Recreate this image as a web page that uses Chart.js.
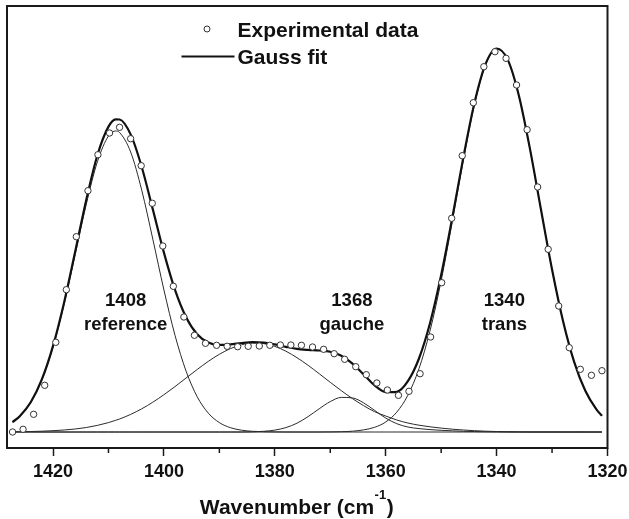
<!DOCTYPE html>
<html>
<head>
<meta charset="utf-8">
<script src="https://cdn.jsdelivr.net/npm/chart.js@4.4.1/dist/chart.umd.min.js"></script>
<style>
  html, body { margin: 0; padding: 0; background: #fff; }
  canvas { display: block; }
</style>
</head>
<body>
<canvas id="chart" width="629" height="519"></canvas>
<script>
// Wavenumber grid (cm-1) shared by the fitted curve and its four Gaussian bands
const fitWavenumber = [1427.3, 1426, 1424, 1422, 1420, 1418, 1416, 1414, 1412, 1410, 1408.7, 1408,
  1406, 1404, 1402, 1400, 1398, 1396, 1394, 1392, 1390, 1388, 1386, 1384, 1382, 1380, 1378, 1376,
  1374, 1372, 1370, 1368, 1366, 1364, 1362, 1360, 1358, 1356, 1354, 1352, 1350, 1348, 1346, 1344,
  1342, 1340, 1338, 1336, 1334, 1332, 1330, 1328, 1326, 1324, 1322, 1321];

// 1408 cm-1 reference band
const refBand = [9.7, 15.5, 29.5, 52.0, 84.8, 127.6, 177.4, 227.8, 270.2, 296.0, 301.0, 299.5,
  280.0, 241.8, 192.8, 142.1, 96.7, 60.8, 35.3, 18.9, 9.4, 4.3, 1.8, 0.7, 0.3, 0.1, 0, 0,
  0, 0, 0, 0, 0, 0, 0, 0, 0, 0, 0, 0, 0, 0, 0, 0,
  0, 0, 0, 0, 0, 0, 0, 0, 0, 0, 0, 0];

// broad underlying band near 1383 cm-1
const broadBand = [0.2, 0.3, 0.5, 0.8, 1.3, 2.0, 3.0, 4.5, 6.6, 9.4, 11.7, 13.0,
  17.6, 23.2, 29.8, 37.3, 45.4, 54.0, 62.5, 70.6, 77.7, 83.4, 87.2, 88.9, 88.4, 85.6, 80.8, 74.3,
  66.7, 58.3, 49.7, 41.3, 33.4, 26.4, 20.3, 16.0, 12.0, 9.0, 6.8, 5.2, 3.9, 2.8, 2.0, 1.3,
  0.8, 0.5, 0.3, 0.15, 0, 0, 0, 0, 0, 0, 0, 0];

// 1368 cm-1 gauche band
const gaucheBand = [0, 0, 0, 0, 0, 0, 0, 0, 0, 0, 0, 0,
  0, 0, 0, 0, 0, 0, 0, 0, 0, 0, 0, 0.2, 0.7, 1.9, 4.4, 8.8,
  15.4, 23.2, 30.4, 34.6, 34.1, 29.2, 21.6, 13.9, 8.3, 5.0, 3.4, 2.4, 1.7, 1.15, 0.75, 0.45,
  0.25, 0.1, 0, 0, 0, 0, 0, 0, 0, 0, 0, 0];

// 1340 cm-1 trans band
const transBand = [0, 0, 0, 0, 0, 0, 0, 0, 0, 0, 0, 0,
  0, 0, 0, 0, 0, 0, 0, 0, 0, 0, 0, 0, 0, 0, 0, 0,
  0, 0, 0.1, 0.3, 0.8, 2.1, 4.7, 10.0, 19.9, 36.8, 63.3, 101.4, 151.3, 210.1, 271.7, 327.2,
  366.8, 382.9, 372.1, 336.6, 283.6, 222.5, 162.5, 110.5, 69.9, 41.2, 22.6, 16.3];

// overall Gauss fit (envelope of the four bands)
const gaussFit = [9.9, 15.8, 30.0, 52.8, 86.1, 129.6, 180.4, 232.3, 276.8, 305.4, 312.7, 312.5,
  297.6, 265.0, 222.6, 179.4, 142.1, 114.8, 97.8, 89.5, 87.1, 87.7, 89.0, 89.8, 89.4, 87.6, 85.2, 83.1,
  82.1, 81.5, 80.2, 76.2, 68.3, 57.7, 46.6, 39.9, 40.2, 50.8, 73.5, 109.0, 156.9, 214.1, 274.5, 329.0,
  367.9, 383.5, 372.4, 336.8, 283.6, 222.5, 162.5, 110.5, 69.9, 41.2, 22.6, 16.3];

// measured spectrum
const dataWavenumber = [1427.3, 1425.4, 1423.5, 1421.5, 1419.5, 1417.6, 1415.8, 1413.7, 1411.9, 1409.8,
  1408.0, 1406.0, 1404.1, 1402.1, 1400.2, 1398.3, 1396.4, 1394.5, 1392.5, 1390.5, 1388.6, 1386.7,
  1384.8, 1382.8, 1380.9, 1379.0, 1377.1, 1375.2, 1373.2, 1371.2, 1369.3, 1367.4, 1365.4, 1363.5,
  1361.6, 1359.7, 1357.7, 1355.8, 1353.8, 1351.9, 1349.9, 1348.1, 1346.2, 1344.2, 1342.3, 1340.3,
  1338.3, 1336.4, 1334.5, 1332.6, 1330.7, 1328.8, 1326.9, 1324.9, 1322.9, 1321.0];
const dataIntensity = [0, 2.7, 17.7, 46.7, 89.7, 142.3, 195.3, 241.3, 277.3, 299,
  304.7, 293.3, 266.3, 228.7, 186, 145.7, 115, 96.7, 88.7, 86.7, 85.7, 85.3,
  85.7, 86, 86.7, 87, 87, 86.7, 85, 82.7, 78.3, 72.7, 65.3, 57.3,
  49, 42, 36.7, 40.7, 58.3, 95, 149.3, 213.7, 276.3, 329.3, 365.3, 380.3,
  373.7, 347, 302.3, 245, 182.7, 126, 84.3, 62.7, 56.7, 61.3];

// axis ticks
const majorTicks = [1320, 1340, 1360, 1380, 1400, 1420];
const minorTicks = [1330, 1350, 1370, 1390, 1410];

// band annotations: position (cm-1) and text lines
const bandLabels = [
  { wn: 1406.9, lines: ['1408', 'reference'] },
  { wn: 1366.1, lines: ['1368', 'gauche'] },
  { wn: 1338.6, lines: ['1340', 'trans'] }
];
const legendLabels = ['Experimental data', 'Gauss fit'];
const axisTitle = { main: 'Wavenumber (cm', sup: '-1', tail: ')' };

const FONT = '"Liberation Sans", Arial, Helvetica, sans-serif';
const INK = '#111';

const toPoints = (xs, ys) => xs.map((x, i) => ({ x: x, y: ys[i] }));

function bandDataset(label, values) {
  return {
    label: label,
    data: toPoints(fitWavenumber, values),
    showLine: true,
    borderColor: '#2a2a2a',
    borderWidth: 1,
    pointRadius: 0,
    cubicInterpolationMode: 'monotone',
    order: 2
  };
}

// frame, minor ticks, band labels, legend and axis title
const decorations = {
  id: 'decorations',
  afterDraw(chart) {
    const { ctx, chartArea: a, scales: { x, y } } = chart;
    ctx.save();

    ctx.strokeStyle = '#1a1a1a';
    ctx.lineWidth = 2;
    ctx.strokeRect(a.left, a.top, a.right - a.left, a.bottom - a.top);

    ctx.lineWidth = 1.5;
    ctx.beginPath();
    minorTicks.forEach(v => {
      const px = x.getPixelForValue(v);
      ctx.moveTo(px, a.bottom);
      ctx.lineTo(px, a.bottom + 5);
    });
    ctx.stroke();

    ctx.fillStyle = INK;
    ctx.font = 'bold 18.5px ' + FONT;
    ctx.textAlign = 'center';
    ctx.textBaseline = 'alphabetic';
    bandLabels.forEach(b => {
      const px = x.getPixelForValue(b.wn);
      const py = y.getPixelForValue(126);
      b.lines.forEach((t, i) => ctx.fillText(t, px, py + i * 23.5));
    });

    // legend
    ctx.textAlign = 'left';
    ctx.font = 'bold 21px ' + FONT;
    ctx.fillText(legendLabels[0], 237.5, 36.5);
    ctx.fillText(legendLabels[1], 237.5, 63.5);
    ctx.beginPath();
    ctx.arc(207, 29, 3, 0, Math.PI * 2);
    ctx.fillStyle = '#fff';
    ctx.fill();
    ctx.lineWidth = 1;
    ctx.strokeStyle = '#333';
    ctx.stroke();
    ctx.beginPath();
    ctx.moveTo(181.5, 56.5);
    ctx.lineTo(234.5, 56.5);
    ctx.lineWidth = 2.2;
    ctx.strokeStyle = INK;
    ctx.stroke();

    // x-axis title with superscript
    ctx.fillStyle = INK;
    const mainFont = 'bold 21px ' + FONT;
    const supFont = 'bold 13px ' + FONT;
    ctx.font = mainFont;
    const wMain = ctx.measureText(axisTitle.main).width;
    const wTail = ctx.measureText(axisTitle.tail).width;
    ctx.font = supFont;
    const wSup = ctx.measureText(axisTitle.sup).width;
    const cx = (a.left + a.right) / 2 - 10.5;
    let tx = cx - (wMain + wSup + 1 + wTail) / 2;
    const base = 514;
    ctx.font = mainFont;
    ctx.fillText(axisTitle.main, tx, base);
    tx += wMain + 0.5;
    ctx.font = supFont;
    ctx.fillText(axisTitle.sup, tx, base - 15);
    tx += wSup + 0.5;
    ctx.font = mainFont;
    ctx.fillText(axisTitle.tail, tx, base);

    ctx.restore();
  }
};

new Chart(document.getElementById('chart'), {
  type: 'scatter',
  data: {
    datasets: [
      {
        label: legendLabels[0],
        data: toPoints(dataWavenumber, dataIntensity),
        showLine: false,
        pointRadius: 3.2,
        pointBorderWidth: 1,
        pointBorderColor: '#333',
        pointBackgroundColor: '#fff',
        order: 0
      },
      {
        label: legendLabels[1],
        data: toPoints(fitWavenumber, gaussFit),
        showLine: true,
        borderColor: INK,
        borderWidth: 2.2,
        pointRadius: 0,
        cubicInterpolationMode: 'monotone',
        order: 1
      },
      bandDataset('1408 reference', refBand),
      bandDataset('broad', broadBand),
      bandDataset('1368 gauche', gaucheBand),
      bandDataset('1340 trans', transBand)
    ]
  },
  options: {
    responsive: false,
    animation: false,
    devicePixelRatio: 1,
    events: [],
    layout: { padding: { left: 7, right: 21.5, top: 6, bottom: 31.4 } },
    plugins: {
      legend: { display: false },
      tooltip: { enabled: false }
    },
    scales: {
      x: {
        type: 'linear',
        position: 'bottom',
        reverse: true,
        min: 1320,
        max: 1428.3,
        afterBuildTicks: scale => { scale.ticks = majorTicks.map(v => ({ value: v })); },
        grid: { drawOnChartArea: false, drawTicks: true, tickLength: 8, tickWidth: 1.5, tickColor: '#1a1a1a' },
        border: { display: false },
        ticks: {
          font: { family: FONT, size: 18, weight: 'bold' },
          color: INK,
          padding: 5,
          maxRotation: 0,
          autoSkip: false,
          callback: value => String(value)
        }
      },
      y: { display: false, min: -16, max: 426 }
    }
  },
  plugins: [decorations]
});
</script>
</body>
</html>
